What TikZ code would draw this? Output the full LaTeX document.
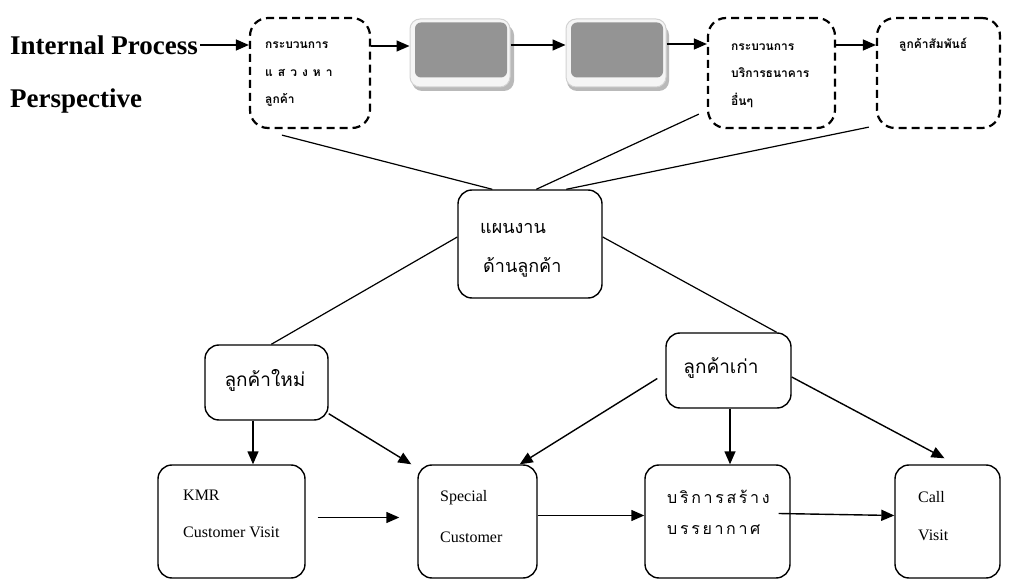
\documentclass[tikz,border=0pt]{standalone}
\usepackage{fontspec}
\setmainfont{Liberation Serif}
\newfontfamily\thai[Script=Thai]{Loma}
\usetikzlibrary{arrows.meta,calc}
\tikzset{
  box/.style={draw, line width=1.4pt, rounded corners=14pt, inner sep=0pt},
  dbox/.style={draw, line width=2.2pt, dash pattern=on 8pt off 5pt, rounded corners=18pt, inner sep=0pt},
  txt/.style={anchor=west, inner sep=0pt},
  small/.style={txt, font=\thai\bfseries\fontsize{12}{14}\selectfont},
  ln/.style={line width=1.2pt},
  arr/.style={line width=1.4pt, -{Triangle[length=13pt,width=11pt]}},
  gout/.style={draw=gray!35, fill=gray!8, line width=1pt, rounded corners=10pt, minimum width=100, minimum height=68},
  gin/.style={fill=gray!80!black!70, rounded corners=6pt, minimum width=92, minimum height=55, inner sep=0pt},
}
\begin{document}
\begin{tikzpicture}[x=1pt,y=-1pt]
\useasboundingbox (0,0) rectangle (1010,585);
% title
\node[txt, font=\bfseries\fontsize{27}{29}\selectfont] (t1) at (10,45) {Internal Process};
\node[txt, font=\bfseries\fontsize{27}{29}\selectfont] (t2) at (10,101) {Perspective};
% top row
\node[dbox, minimum width=120, minimum height=110] (b1) at (310,73) {};
\node[small] (b1a) at (265,45) {กระบวนการ};
\node[small] (b1b) at (265,73) {แ\hspace{5pt}ส\hspace{5pt}ว\hspace{5pt}ง\hspace{5pt}ห\hspace{5pt}า};
\node[small] (b1c) at (265,100) {ลูกค้า};
% gray boxes
\fill[gray!55, rounded corners=10pt] (412,25) rectangle (514,91);
\node[gout] (b2) at (460,53) {};
\node[gin] (b2i) at (461,50) {};
\fill[gray!55, rounded corners=10pt] (567,25) rectangle (669,91);
\node[gout] (b3) at (616,53) {};
\node[gin] (b3i) at (617,50) {};
\node[dbox, minimum width=127, minimum height=110] (b4) at (771.5,73) {};
\node[small] (b4a) at (731,47) {กระบวนการ};
\node[small] (b4b) at (731,73) {บริการธนาคาร};
\node[small] (b4c) at (731,100) {อื่นๆ};
\node[dbox, minimum width=123, minimum height=110] (b5) at (938.5,73) {};
\node[small] (b5a) at (899,45) {ลูกค้าสัมพันธ์};
% top arrows
\coordinate (a0) at ([xshift=2]t1.east);
\draw[arr] (a0) -- (b1.west |- a0);
\draw[arr] (b1.east |- 0,46) -- (b2.west |- 0,46);
\draw[arr] (b2.east |- 0,45) -- (b3.west |- 0,45);
\draw[arr] (b3.east |- 0,44) -- (b4.west |- 0,44);
\draw[arr] (b4.east |- 0,45) -- (b5.west |- 0,45);
% centre
\node[box, minimum width=144, minimum height=108] (c) at (530,244) {};
\node[txt, font=\thai\fontsize{18}{20}\selectfont] (ca) at (480,228) {แผนงาน};
\node[txt, font=\thai\fontsize{18}{20}\selectfont] (cb) at (483,267) {ด้านลูกค้า};
\draw[ln] ([shift={(33,6)}]b1.south west) -- ([xshift=35]c.north west);
\draw[ln] ([shift={(-8,-15)}]b4.south west) -- ([xshift=79]c.north west);
\draw[ln] ([shift={(-7,-2)}]b5.south west) -- ([xshift=109]c.north west);
% middle row
\node[box, minimum width=123, minimum height=75] (nw) at (266.5,382.5) {};
\node[font=\thai\fontsize{19}{21}\selectfont, inner sep=0pt] (nwt) at (265,380) {ลูกค้าใหม่};
\node[box, minimum width=125, minimum height=75] (od) at (728.5,370.5) {};
\node[font=\thai\fontsize{19}{21}\selectfont, inner sep=0pt] (odt) at (721,368) {ลูกค้าเก่า};
\draw[ln] (c.west |- 0,237) -- ([xshift=67]nw.north west);
\draw[ln] (c.east |- 0,237) -- ([xshift=-15]od.north east);
% bottom row
\node[box, minimum width=147, minimum height=113] (kmr) at (231.5,521.5) {};
\node[txt, font=\fontsize{16}{18}\selectfont] (kmra) at (183,495) {KMR};
\node[txt, font=\fontsize{16}{18}\selectfont] (kmrb) at (183,532) {Customer Visit};
\node[box, minimum width=119, minimum height=113] (sp) at (477.5,521.5) {};
\node[txt, font=\fontsize{16}{18}\selectfont] (spa) at (440,498) {Special};
\node[txt, font=\fontsize{16}{18}\selectfont] (spb) at (440,537) {Customer};
\node[box, minimum width=145, minimum height=113] (br) at (717.5,521.5) {};
\node[txt, font=\thai\fontsize{16}{18}\selectfont] (bra) at (667,497) {บ\,ริ\,ก\,า\,ร\,ส\,ร้\,า\,ง};
\node[txt, font=\thai\fontsize{16}{18}\selectfont] (brb) at (667,530) {บ\,ร\,ร\,ย\,า\,ก\,า\,ศ};
\node[box, minimum width=105, minimum height=113] (cl) at (947.5,521.5) {};
\node[txt, font=\fontsize{16}{18}\selectfont] (cla) at (918,497) {Call};
\node[txt, font=\fontsize{16}{18}\selectfont] (clb) at (918,535) {Visit};
% arrows
\draw[arr] (nw.south -| 253,0) -- (kmr.north -| 253,0);
\draw[arr] ([yshift=7]nw.south east) -- ([shift={(-6,0)}]sp.north west);
\draw[arr] ([shift={(-8,8)}]od.west) -- ([xshift=-18]sp.north east);
\draw[arr] (od.south -| 730,0) -- (br.north -| 730,0);
\draw[arr] (od.east |- 0,377) -- ([shift={(-3,-6)}]cl.north);
\draw[arr] ([shift={(12,-4)}]kmr.east) -- ([shift={(-18,-4)}]sp.west);
\draw[arr] ([yshift=6]sp.east) -- ([yshift=6]br.west);
\draw[arr] ([shift={(-12,-8)}]br.east) -- ([yshift=6]cl.west);
\end{tikzpicture}
\end{document}
